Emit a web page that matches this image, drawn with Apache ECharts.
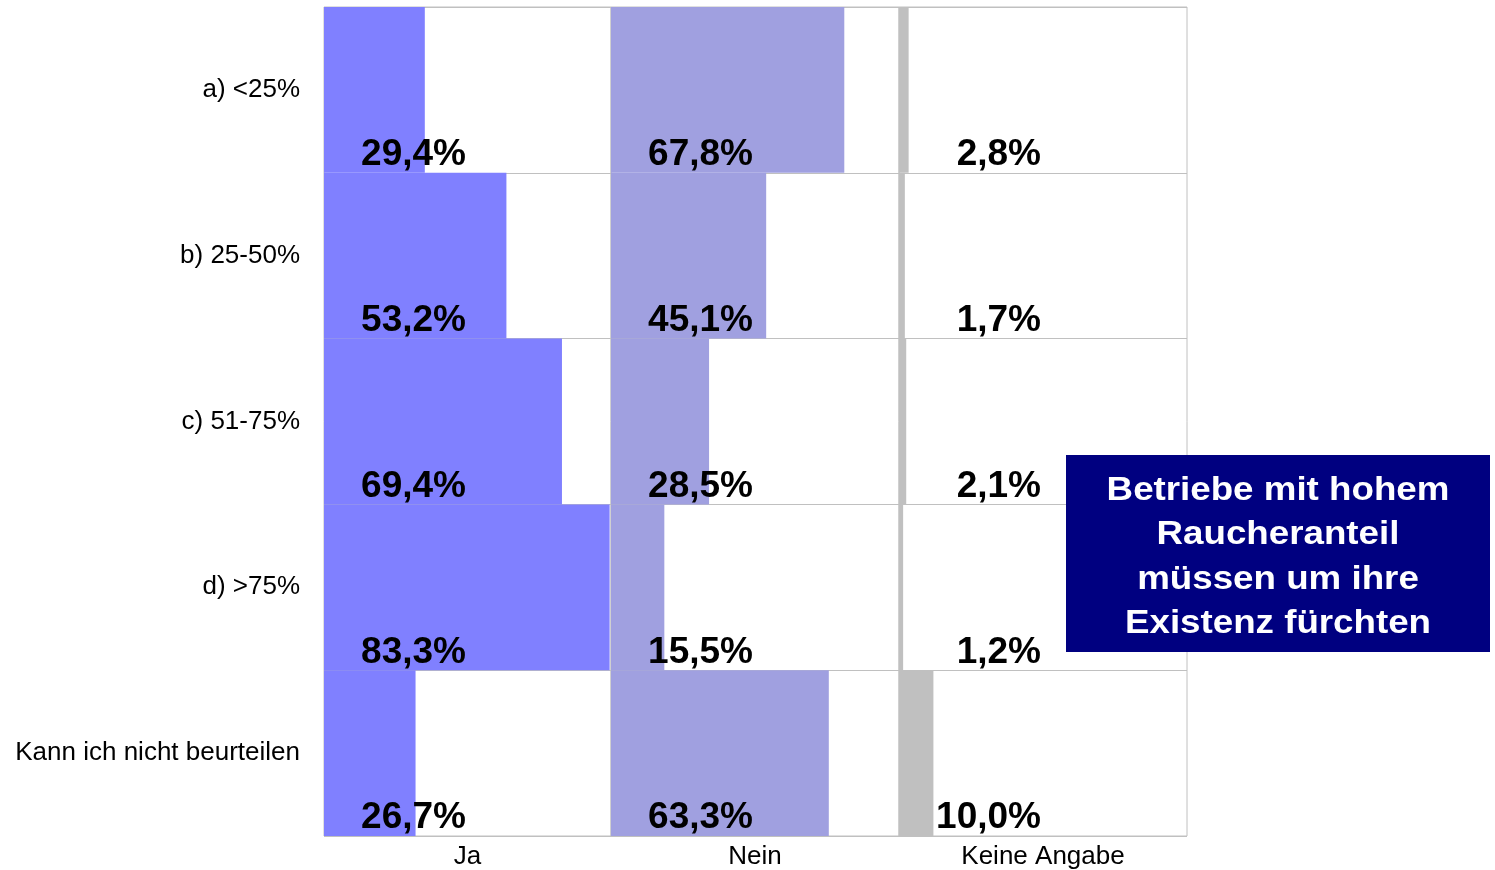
<!DOCTYPE html>
<html>
<head>
<meta charset="utf-8">
<script src="https://cdn.jsdelivr.net/npm/echarts@6/dist/echarts.min.js"></script>
<style>
html,body{margin:0;padding:0;background:#fff;}
#main{width:1495px;height:870px;}
</style>
</head>
<body>
<div id="main"></div>
<script>
const categories = ['a) <25%', 'b) 25-50%', 'c) 51-75%', 'd) >75%', 'Kann ich nicht beurteilen'];
const columns = ['Ja', 'Nein', 'Keine Angabe'];
const ja = [29.4, 53.2, 69.4, 83.3, 26.7];
const nein = [67.8, 45.1, 28.5, 15.5, 63.3];
const keine = [2.8, 1.7, 2.1, 1.2, 10.0];
const note = ['Betriebe mit hohem', 'Raucheranteil', 'müssen um ihre', 'Existenz fürchten'];

const seriesData = [ja, nein, keine];
const colors = ['#8080FF', '#A0A0E0', '#C0C0C0'];
const FONT = '"Liberation Sans", Arial, sans-serif';
const gridLefts = [324, 611, 899];
const gridWidths = [287, 288, 288];

const chart = echarts.init(document.getElementById('main'));
const fmt = v => v.toFixed(1).replace('.', ',') + '%';

const option = {
  animation: false,
  backgroundColor: '#fff',
  grid: gridLefts.map((l, i) => ({
    left: l, top: 7, width: gridWidths[i], height: 829,
    show: true, borderColor: '#c0c0c0', borderWidth: 1, containLabel: false,
    outerBoundsMode: 'none'
  })),
  xAxis: columns.map((c, i) => ({
    type: 'value', gridIndex: i, min: 0, max: 83.7,
    axisLabel: {show: false}, axisLine: {show: false}, axisTick: {show: false},
    splitLine: {show: false},
    name: c, nameLocation: 'middle', nameGap: 8,
    nameTextStyle: {fontSize: 26, color: '#000', fontFamily: FONT}
  })),
  yAxis: columns.map((c, i) => ({
    type: 'category', gridIndex: i, data: categories, inverse: true,
    axisLine: {show: false}, axisTick: {show: false},
    axisLabel: {show: i === 0, fontSize: 26, color: '#000', fontFamily: FONT, margin: 24, padding: [0, 0, 8, 0]},
    splitLine: {show: true, lineStyle: {color: '#c0c0c0', width: 1}}
  })),
  series: seriesData.map((d, i) => ({
    type: 'bar', xAxisIndex: i, yAxisIndex: i, data: d,
    barWidth: '100%', barCategoryGap: 0, silent: true,
    itemStyle: {color: colors[i]},
    label: {
      show: true, position: [142, 148], align: 'right', verticalAlign: 'middle',
      fontSize: 37, fontWeight: 'bold', color: '#000', fontFamily: FONT,
      formatter: p => fmt(p.value)
    }
  })),
  graphic: [
    {type: 'rect', z: 100, shape: {x: 1066, y: 455, width: 424, height: 197}, style: {fill: '#000080'}},
    {type: 'text', z: 101, x: 1278, y: 557, scaleX: 1.08,
     style: {text: note.join('\n'), fill: '#fff', fontSize: 34, fontWeight: 'bold', fontFamily: FONT,
             lineHeight: 44.5, align: 'center', verticalAlign: 'middle'}}
  ]
};
chart.setOption(option);
</script>
</body>
</html>
